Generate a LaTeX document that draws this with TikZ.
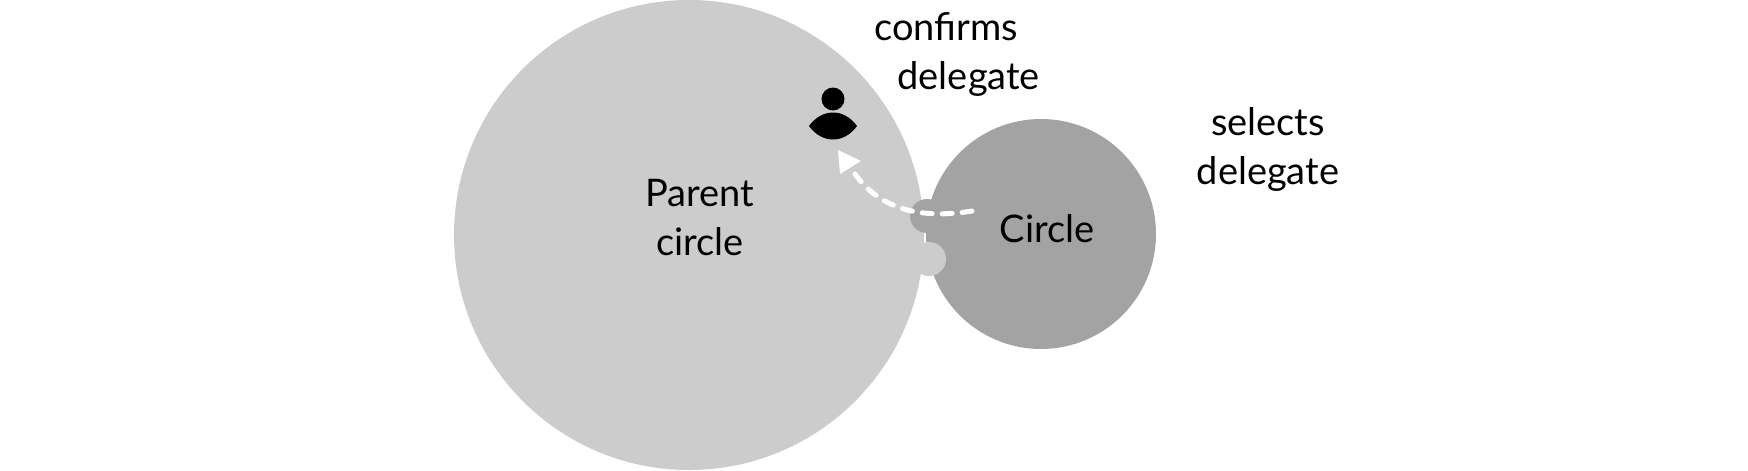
\documentclass[tikz,border=0pt]{standalone}
\usepackage{fontspec}
\setmainfont{Lato}
\begin{document}
\begin{tikzpicture}[x=1pt,y=-1pt,
  lbl/.style={align=center,font=\fontsize{38}{49}\selectfont,inner sep=0},
  blob/.style={circle,inner sep=0,draw=none}]
\useasboundingbox (0,0) rectangle (1748,471);
\node[blob,fill=black!20,minimum size=470] (parent) at (689,235) {};
\node[blob,fill=black!36,minimum size=230] (circ) at (1041,234) {};
\node[blob,fill=black!36,minimum size=34] (dk) at (927,216) {};
\node[blob,fill=black!20,minimum size=34] (lt) at (929,259) {};
\node[lbl] (pt) at (700,218) {Parent\\circle};
\node[lbl] (ct) at (1047,229) {Circle};
\node[lbl] (cd) at (946,54) {confirms\\\hspace*{1.2em}delegate};
\node[lbl] (sd) at (1268,149) {selects\\delegate};
% person icon
\node[blob,fill=black,minimum size=23] (head) at (833,99) {};
\fill (809,126) .. controls (822,108) and (844,108) .. (857,126) .. controls (844,144) and (822,144) .. (809,126) -- cycle;
\coordinate (s) at (972,211);
\coordinate (e) at (851,168);
\draw[white,line width=5,line cap=round,dash pattern=on 10 off 10] (s) .. controls (930,218) and (880,215) .. (e);
\fill[white] (838,150) -- (861,161) -- (840,174) -- cycle;
\end{tikzpicture}
\end{document}
